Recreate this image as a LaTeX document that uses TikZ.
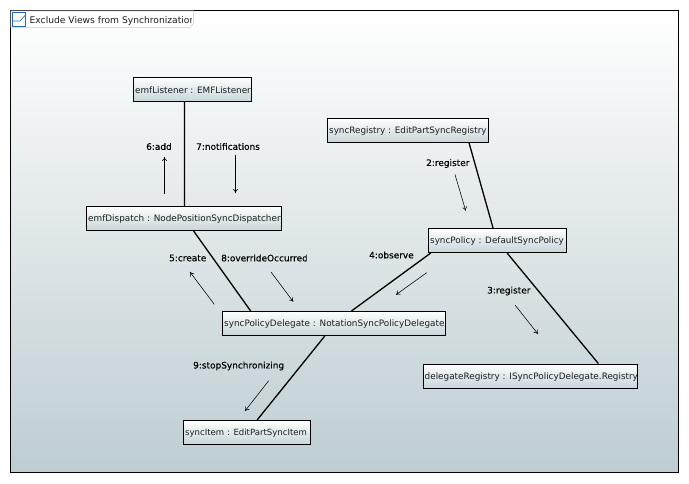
\documentclass[tikz,border=0pt]{standalone}
\usepackage{fontspec}
\setmainfont{DejaVu Sans}
\newfontfamily\lblfont[FakeBold=0.25]{DejaVu Sans}
\usetikzlibrary{arrows.meta,calc}
\definecolor{bgbot}{RGB}{190,205,210}
\definecolor{boxbot}{RGB}{200,214,218}
\definecolor{boxtxt}{RGB}{30,30,30}
\definecolor{tabline}{RGB}{215,222,225}
\definecolor{iconblue}{RGB}{40,105,165}
\tikzset{
  x=1pt,y=-1pt,
  obj/.style={draw=black,line width=1pt,top color=white,bottom color=boxbot,middle color=white!45!boxbot,minimum height=24pt,inner sep=0pt,text=boxtxt},
  lnk/.style={draw=black,line width=1.3pt},
  msg/.style={draw=black,line width=0.55pt,-{To[length=4pt,width=5pt]}},
  lbl/.style={anchor=west,inner sep=0pt,text=black,font=\lblfont\fontsize{8.95}{10}\selectfont},
}
\newcommand{\objbox}[6]{\node[obj,minimum width=#4 pt,anchor=north west] (#1) at (#2,#3) {};
  \node[anchor=west,inner sep=0pt,text=boxtxt,font=\fontsize{#6}{10}\selectfont] (#1t) at ([xshift=2pt,yshift=-0.8pt]#1.west) {#5};}
\begin{document}
\begin{tikzpicture}
\useasboundingbox (0,0) rectangle (689,483);
\fill[white] (0,0) rectangle (689,483);
\shade[top color=white,bottom color=bgbot] (10.5,10.5) rectangle (678,472);
\draw[black,line width=1pt] (10.5,10.5) rectangle (678,472);
% frame tab
\draw[tabline,fill=white,line width=0.7pt] (11,11) -- (193.5,11) -- (193.5,23) -- (190,27.5) -- (11,27.5) -- cycle;
\draw[iconblue,line width=0.8pt,fill=white] (12,12) rectangle (25.5,26);
\draw[iconblue,line width=0.6pt] (12,21) -- (20,21) -- (25.5,15);
\begin{scope}
\clip (11,11) rectangle (191,27);
\node[anchor=west,inner sep=0pt,text=boxtxt,font=\fontsize{9.15}{10}\selectfont] (title) at (29.5,20.5) {Exclude Views from Synchronization};
\end{scope}
% objects
\objbox{emfListener}{133}{77}{118}{emfListener : EMFListener}{8.8}
\objbox{emfDispatch}{86}{206}{195}{emfDispatch : NodePositionSyncDispatcher}{8.85}
\objbox{syncRegistry}{327}{118}{161}{syncRegistry : EditPartSyncRegistry}{8.8}
\objbox{syncPolicy}{428}{228}{138}{syncPolicy : DefaultSyncPolicy}{8.8}
\objbox{syncPolicyDelegate}{222}{311}{223}{syncPolicyDelegate : NotationSyncPolicyDelegate}{8.85}
\objbox{syncItem}{183}{420}{127}{syncItem : EditPartSyncItem}{8.55}
\objbox{delegateRegistry}{422.5}{363.5}{214.5}{delegateRegistry : ISyncPolicyDelegate.Registry}{8.85}
% links
\draw[lnk] ($(emfListener.south west)!0.432!(emfListener.south east)$) -- ($(emfDispatch.north west)!0.503!(emfDispatch.north east)$);
\draw[lnk] ($(emfDispatch.south west)!0.549!(emfDispatch.south east)$) -- ($(syncPolicyDelegate.north west)!0.128!(syncPolicyDelegate.north east)$);
\draw[lnk] ($(syncPolicy.south west)!0.02!(syncPolicy.south east)$) -- ($(syncPolicyDelegate.north west)!0.578!(syncPolicyDelegate.north east)$);
\draw[lnk] ($(syncRegistry.south west)!0.877!(syncRegistry.south east)$) -- ($(syncPolicy.north west)!0.468!(syncPolicy.north east)$);
\draw[lnk] ($(syncPolicy.south west)!0.569!(syncPolicy.south east)$) -- ($(delegateRegistry.north west)!0.816!(delegateRegistry.north east)$);
\draw[lnk] ($(syncPolicyDelegate.south west)!0.459!(syncPolicyDelegate.south east)$) -- ($(syncItem.north west)!0.579!(syncItem.north east)$);
% message arrows
\coordinate (m6a) at (164.5,194); \coordinate (m6b) at (164.5,157);
\coordinate (m7a) at (235.5,155); \coordinate (m7b) at (235.5,193);
\coordinate (m2a) at (455,174.5); \coordinate (m2b) at (465.7,210.7);
\coordinate (m4a) at (426.7,272.7); \coordinate (m4b) at (396,294.7);
\coordinate (m3a) at (515,305); \coordinate (m3b) at (538,334);
\coordinate (m8a) at (271,272); \coordinate (m8b) at (293.3,301.7);
\coordinate (m5a) at (214.3,304.3); \coordinate (m5b) at (190,272);
\coordinate (m9a) at (268.7,380.7); \coordinate (m9b) at (245,411);
\foreach \m in {6,7,2,4,3,8,5,9}{\draw[msg] (m\m a) -- (m\m b);}
% labels
\node[lbl] (l6) at (146,146.5) {6:add};
\begin{scope}\clip (190,135) rectangle (259.5,158);
\node[lbl] (l7) at (196,146.5) {7:notifications};\end{scope}
\node[lbl] (l2) at (426,163.5) {2:register};
\node[lbl] (l4) at (369,255) {4:observe};
\node[lbl] (l3) at (487,291) {3:register};
\node[lbl] (l5) at (169,258) {5:create};
\begin{scope}\clip (215,248) rectangle (306.5,268);
\node[lbl] (l8) at (221,258) {8:overrideOccurred};\end{scope}
\begin{scope}\clip (188,356) rectangle (283.5,376);
\node[lbl] (l9) at (193,366) {9:stopSynchronizing};\end{scope}
\end{tikzpicture}
\end{document}
